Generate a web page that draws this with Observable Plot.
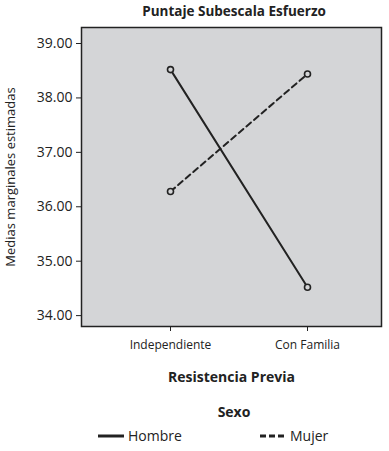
<!DOCTYPE html>
<html>
<head>
<meta charset="utf-8">
<script src="https://cdn.jsdelivr.net/npm/d3@7"></script>
<script src="https://cdn.jsdelivr.net/npm/@observablehq/plot@0.6"></script>
<style>
  html, body { margin: 0; padding: 0; background: #fff; }
  body { width: 389px; height: 451px; overflow: hidden; font-family: "Open Sans", sans-serif; color: #222; }
  #title { height: 22px; line-height: 23px; padding-left: 84px; width: 300px; text-align: center; font-weight: bold; font-size: 13.5px; box-sizing: content-box; }
  #chart svg { display: block; }
  #chart g[aria-label="x-axis label"] text { font-weight: bold; }
  #legend { position: relative; height: 81px; }
  #legend .ttl { position: absolute; left: 84px; width: 300px; top: 10px; text-align: center; font-weight: bold; font-size: 14px; }
  #legend .item { position: absolute; top: 34px; font-size: 14px; display: flex; align-items: center; }
  #legend .item svg { margin-right: 4px; }
</style>
</head>
<body>
<div id="title"></div>
<div id="chart"></div>
<div id="legend"></div>
<script>
const titleText = "Puntaje Subescala Esfuerzo";
const categories = ["Independiente", "Con Familia"];
const sexes = ["Hombre", "Mujer"];
const hombre = [38.52, 34.52];
const mujer = [36.28, 38.44];
const yTicks = [34, 35, 36, 37, 38, 39];
const xLabel = "Resistencia Previa";
const yLabel = "Medias marginales estimadas";
const legendTitle = "Sexo";

const data = [];
categories.forEach((c, i) => {
  data.push({res: c, sexo: sexes[0], val: hombre[i]});
  data.push({res: c, sexo: sexes[1], val: mujer[i]});
});

document.getElementById("title").textContent = titleText;

const ink = "#222";
const plot = Plot.plot({
  width: 389,
  height: 370,
  marginTop: 5,
  marginLeft: 81,
  marginRight: 8,
  marginBottom: 66,
  style: {fontFamily: "Open Sans, sans-serif", color: ink, background: "transparent"},
  x: {type: "point", domain: categories, padding: 0.591, align: 0.548},
  y: {domain: [33.80, 39.294]},
  marks: [
    Plot.frame({fill: "#d4d5d7", stroke: "none"}),
    Plot.axisY(yTicks, {tickFormat: d3.format(".2f"), tickSize: 5, tickPadding: 4, fontSize: 14,
      label: yLabel, labelAnchor: "center", labelOffset: 76, labelArrow: "none", stroke: ink}),
    Plot.axisX(categories, {tickSize: 5, tickPadding: 9, fontSize: 12, stroke: ink,
      label: xLabel, labelAnchor: "center", labelOffset: 55, labelArrow: "none"}),
    Plot.line(data.filter(d => d.sexo === sexes[0]), {x: "res", y: "val", stroke: ink, strokeWidth: 2}),
    Plot.line(data.filter(d => d.sexo === sexes[1]), {x: "res", y: "val", stroke: ink, strokeWidth: 2, strokeDasharray: "6,4"}),
    Plot.dot(data, {x: "res", y: "val", r: 3, stroke: ink, strokeWidth: 1.6, fill: "#d4d5d7"}),
    Plot.frame({stroke: ink, strokeWidth: 1.5})
  ]
});
document.getElementById("chart").appendChild(plot);
plot.querySelectorAll('g[aria-label="x-axis label"] text').forEach(t => t.setAttribute("font-size", 14));
plot.querySelectorAll('g[aria-label="y-axis label"] text').forEach(t => t.setAttribute("font-size", 13));

const legend = document.getElementById("legend");
const lt = document.createElement("div");
lt.className = "ttl";
lt.textContent = legendTitle;
legend.appendChild(lt);
const lefts = [98, 260];
const dashes = [null, "6,3"];
sexes.forEach((s, i) => {
  const it = document.createElement("div");
  it.className = "item";
  it.style.left = lefts[i] + "px";
  const sw = d3.create("svg").attr("width", 26).attr("height", 10);
  sw.append("line").attr("x1", 0).attr("x2", 26).attr("y1", 5).attr("y2", 5)
    .attr("stroke", ink).attr("stroke-width", 3).attr("stroke-dasharray", dashes[i]);
  it.appendChild(sw.node());
  const sp = document.createElement("span");
  sp.textContent = s;
  it.appendChild(sp);
  legend.appendChild(it);
});
</script>
</body>
</html>
